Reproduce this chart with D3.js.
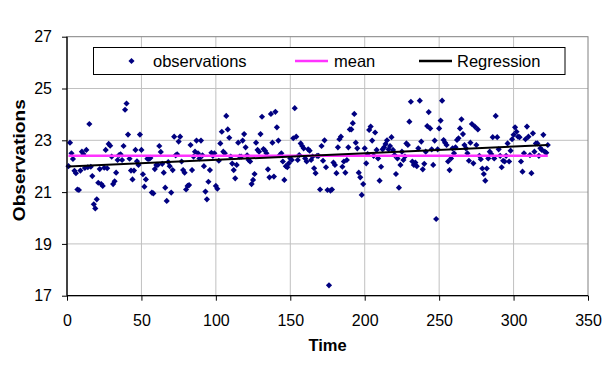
<!DOCTYPE html>
<html>
<head>
<meta charset="utf-8">
<script src="https://cdn.jsdelivr.net/npm/d3@7"></script>
<style>
  body { margin: 0; background: #fff; }
  svg { display: block; font-family: Arial, "Liberation Sans", sans-serif; }
</style>
</head>
<body>
<div id="chart"></div>
<script>
// observations, in time order (time = index + 1)
const seg1 = [22.0, 22.91, 22.5, 22.28, 21.82, 21.73, 21.1, 21.08, 21.83, 22.56,
  22.47, 21.93, 22.63, 21.96, 23.63, 21.98, 21.62, 20.53, 20.37, 20.72,
  21.36, 21.89, 21.31, 21.24, 21.94, 22.63, 21.92, 22.86, 22.79, 22.37,
  21.31, 21.42, 21.75, 22.24, 22.43, 22.46, 22.24, 22.78, 24.18, 24.42,
  23.22, 22.29, 21.83, 21.49, 21.83, 22.63, 22.19, 22.05, 23.22, 22.63,
  21.69, 21.21, 21.49, 22.29, 22.28, 22.32, 20.98, 20.95, 21.89, 22.05,
  22.05, 22.78, 22.55, 22.09, 21.75, 21.17, 20.66, 22.16, 22.0];
const seg2 = [20.98, 21.85, 23.14, 22.42, 22.46, 22.95, 23.14, 22.18, 21.85, 21.75,
  21.1, 21.24, 21.27, 22.82, 21.85, 22.37, 22.56, 22.99, 22.5, 22.3, 22.99,
  22.42, 22.0, 21.02, 20.72, 21.4, 21.85, 22.52, 22.4, 22.5, 21.24,
  21.13, 22.21, 22.88, 23.33, 22.56, 22.5, 23.94, 23.42, 23.1, 22.37, 22.1,
  21.85, 21.53, 22.05, 22.91, 22.37, 22.37, 22.99, 23.24, 22.73, 22.42,
  22.24, 22.18, 21.31, 21.47, 21.7, 22.91, 22.63, 22.56, 23.24, 23.91,
  22.66, 22.6, 22.5, 21.88, 21.57, 24.02, 22.91];
const seg3 = [21.6, 24.1, 23.5, 22.99, 22.43, 22.5, 22.18, 21.47, 22.0,
  21.96, 22.11, 22.3, 22.24, 23.08, 24.24, 23.14, 22.24, 22.43, 22.88,
  22.78, 22.69, 22.3, 22.18, 22.65, 22.6, 22.24, 22.37, 21.92, 21.73, 22.4,
  22.4, 21.1, 22.78, 22.21, 23.0, 21.96, 21.08, 17.4, 21.06, 21.1,
  22.14, 22.05, 21.73, 22.73, 23.04, 23.14, 21.98, 22.18, 21.75, 22.24,
  22.73, 23.42, 23.42, 23.66, 24.02, 22.91, 22.69, 21.75, 21.57, 20.89,
  21.31, 22.69, 22.11, 22.47, 23.4, 23.53, 22.99, 22.4];
const seg4 = [23.3, 22.63, 22.3, 21.44, 21.98, 22.65, 22.73, 22.86, 23.0, 22.65,
  22.78, 23.12, 22.63, 22.43, 21.7, 22.3, 21.17, 22.05, 22.56, 22.24,
  22.37, 22.88, 22.82, 23.72, 24.49, 22.18, 22.05, 22.14, 22.0, 22.69,
  24.53, 22.95, 21.88, 22.09, 22.56, 23.55, 24.09, 23.46, 22.65, 22.05,
  22.99, 19.96, 22.65, 23.46, 23.76, 24.53, 23.01, 22.91, 22.82, 22.18,
  21.85, 22.3, 22.69, 22.5, 22.73, 23.01, 23.08, 23.46, 23.81, 23.24,
  22.82, 22.69, 22.5, 22.21, 22.91, 23.63, 22.11, 23.53, 22.82];
const seg5 = [23.42, 22.4, 22.27, 21.91, 21.7, 21.44, 21.91, 22.3, 22.56, 22.47,
  23.12, 22.3, 23.94, 23.12, 22.65, 22.4, 21.96, 22.21, 22.18,
  22.4, 22.88, 22.18, 22.6, 23.04, 23.21, 23.5, 23.33, 23.14, 23.12,
  22.18, 21.79, 22.5, 23.04, 23.53, 23.14, 22.43, 21.73, 23.27, 22.56,
  22.88, 22.88, 22.4, 22.69, 22.63, 23.21, 22.56, 22.52, 22.82];
const observations = [].concat(seg1, seg2, seg3, seg4, seg5);

const xTicks = [0, 50, 100, 150, 200, 250, 300, 350];
const yTicks = [17, 19, 21, 23, 25, 27];
const legendLabels = ['observations', 'mean', 'Regression'];

const W = 605, H = 367;
const mLeft = 67, mRight = 588, mTop = 36.7, mBottom = 295.7;
const font = 'Arial, "Liberation Sans", sans-serif';

const svg = d3.select('#chart').append('svg')
    .attr('width', W).attr('height', H);

const x = d3.scaleLinear().domain([0, 350]).range([mLeft, mRight]);
const y = d3.scaleLinear().domain([17, 27]).range([mBottom, mTop]);

const data = observations.map((v, i) => ({ t: i + 1, v: v }));

// mean + least squares fit
const meanT = d3.mean(data, d => d.t);
const meanV = d3.mean(data, d => d.v);
const slope = d3.sum(data, d => (d.t - meanT) * (d.v - meanV)) /
    d3.sum(data, d => (d.t - meanT) * (d.t - meanT));
const intercept = meanV - slope * meanT;
const tMin = data[0].t, tMax = data[data.length - 1].t;

// grid
const grid = svg.append('g');
grid.selectAll('line.gy').data(yTicks.slice(1, -1)).enter().append('line')
    .attr('x1', mLeft).attr('x2', mRight)
    .attr('y1', d => y(d)).attr('y2', d => y(d))
    .attr('stroke', '#c0c0c0').attr('stroke-width', 1);
grid.selectAll('line.gx').data(xTicks.slice(1, -1)).enter().append('line')
    .attr('y1', mTop).attr('y2', mBottom)
    .attr('x1', d => x(d)).attr('x2', d => x(d))
    .attr('stroke', '#c0c0c0').attr('stroke-width', 1);

// plot border
svg.append('rect')
    .attr('x', mLeft).attr('y', mTop)
    .attr('width', mRight - mLeft).attr('height', mBottom - mTop)
    .attr('fill', 'none').attr('stroke', '#808080').attr('stroke-width', 1);

// points
const diamond = d3.symbol().type(d3.symbolSquare).size(19);
svg.append('g').selectAll('path').data(data).enter().append('path')
    .attr('d', diamond)
    .attr('transform', d => `translate(${x(d.t)},${y(d.v)}) rotate(45)`)
    .attr('fill', '#000080');

// mean
svg.append('line')
    .attr('x1', x(tMin)).attr('x2', x(tMax))
    .attr('y1', y(meanV)).attr('y2', y(meanV))
    .attr('stroke', '#ff33ff').attr('stroke-width', 2.5);

// regression
svg.append('line')
    .attr('x1', x(tMin)).attr('x2', x(tMax))
    .attr('y1', y(intercept + slope * tMin)).attr('y2', y(intercept + slope * tMax))
    .attr('stroke', '#000').attr('stroke-width', 2);

// axes
const yAxis = svg.append('g')
    .attr('transform', `translate(${mLeft},0)`)
    .call(d3.axisLeft(y).tickValues(yTicks).tickSize(5).tickPadding(10).tickFormat(d3.format('d')));
const xAxis = svg.append('g')
    .attr('transform', `translate(0,${mBottom})`)
    .call(d3.axisBottom(x).tickValues(xTicks).tickSize(5).tickPadding(14).tickFormat(d3.format('d')));
[yAxis, xAxis].forEach(a => {
    a.select('.domain').attr('stroke', '#000').attr('stroke-width', 1.3);
    a.selectAll('.tick line').attr('stroke', '#000');
    a.selectAll('.tick text').attr('fill', '#000')
        .style('font-size', '16px').style('font-family', font);
});
xAxis.select('.domain').attr('d', `M${mLeft},0H${mRight}`);
yAxis.select('.domain').attr('d', `M0,${mTop}V${mBottom}`);

// axis titles
svg.append('text')
    .attr('x', x(175)).attr('y', 351)
    .attr('text-anchor', 'middle')
    .style('font-size', '16.5px').style('font-weight', 'bold')
    .text('Time');
svg.append('text')
    .attr('transform', `translate(25,${(mTop + mBottom) / 2 - 6}) rotate(-90)`)
    .attr('text-anchor', 'middle')
    .attr('textLength', 122).attr('lengthAdjust', 'spacingAndGlyphs')
    .style('font-size', '16.5px').style('font-weight', 'bold')
    .text('Observations');

// legend
const legend = svg.append('g');
legend.append('rect')
    .attr('x', 93.5).attr('y', 47.5).attr('width', 471.5).attr('height', 27)
    .attr('fill', '#fff').attr('stroke', '#000').attr('stroke-width', 1);
legend.append('path')
    .attr('d', diamond)
    .attr('transform', 'translate(131.5,61) rotate(45)')
    .attr('fill', '#000080');
legend.append('line')
    .attr('x1', 295).attr('x2', 328).attr('y1', 61).attr('y2', 61)
    .attr('stroke', '#ff33ff').attr('stroke-width', 2.5);
legend.append('line')
    .attr('x1', 419).attr('x2', 452).attr('y1', 61).attr('y2', 61)
    .attr('stroke', '#000').attr('stroke-width', 2.5);
legend.selectAll('text').data(legendLabels).enter().append('text')
    .attr('x', (d, i) => [153, 334, 457][i])
    .attr('y', 66.5)
    .style('font-size', '16.5px')
    .text(d => d);
</script>
</body>
</html>
